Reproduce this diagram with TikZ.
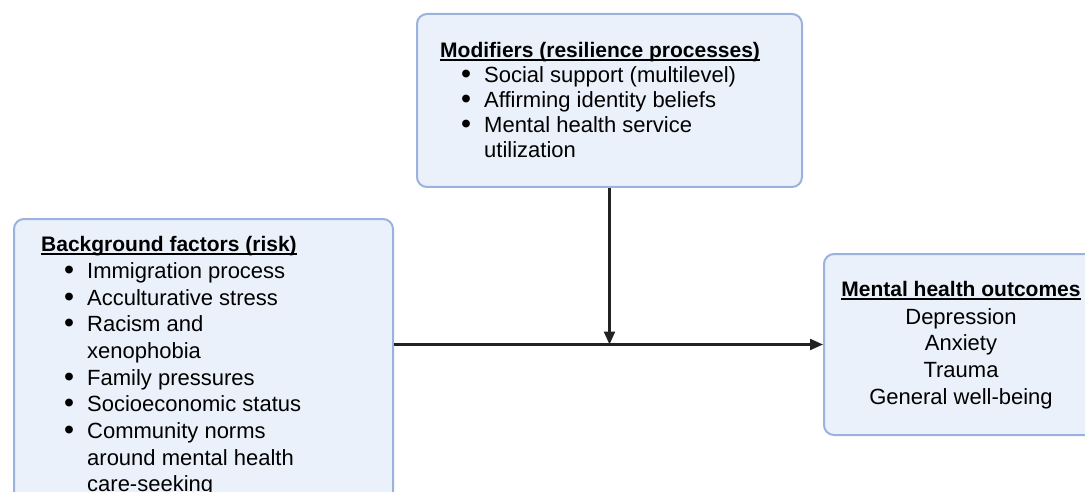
\documentclass[tikz,border=0pt]{standalone}
\usepackage{fontspec}
\setmainfont{Liberation Sans}
\usetikzlibrary{arrows.meta}
\definecolor{boxfill}{RGB}{234,241,251}
\definecolor{boxdraw}{RGB}{155,178,222}
\definecolor{arrowc}{RGB}{34,34,34}
\newsavebox\ulbx
\newcommand\ulhead[1]{\sbox\ulbx{#1}\rlap{\rule[-2.8pt]{\wd\ulbx}{1.5pt}}\usebox\ulbx}
\newcommand\bul{\llap{\smash{\raisebox{-1pt}{\scalebox{1.3}{\textbullet}}}\hspace{13pt}}}
\tikzset{
  box/.style={draw=boxdraw, fill=boxfill, line width=2pt, rounded corners=10pt, anchor=north west, inner sep=0pt},
  txt/.style={anchor=base west, inner sep=0pt, font=\fontsize{22}{26}\selectfont},
  ctxt/.style={txt, anchor=base},
  hd/.style={anchor=base west, inner sep=0pt, font=\fontsize{21}{26}\selectfont\bfseries},
  chd/.style={hd, anchor=base},
  arr/.style={draw=arrowc, line width=2.2pt, -{Triangle[length=13pt,width=11pt]}},
}
\begin{document}
\begin{tikzpicture}[x=1pt,y=-1pt]
\useasboundingbox (0,0) rectangle (1085,492);
\clip (0,0) rectangle (1085,492);
\fill[white] (0,0) rectangle (1085,492);
% boxes
\node[box, minimum width=385pt, minimum height=173pt] (mod) at (416,13) {};
\node[box, minimum width=379pt, minimum height=300pt] (bg) at (13,218) {};
\node[box, minimum width=277pt, minimum height=181pt] (out) at (823,253) {};
% modifiers text
\node[hd] (m0) at (440,58) {\ulhead{Modifiers (resilience processes)}};
\node[txt] (m1) at (484,83) {\bul Social support (multilevel)};
\node[txt] (m2) at (484,108) {\bul Affirming identity beliefs};
\node[txt] (m3) at (484,133) {\bul Mental health service};
\node[txt] (m4) at (484,158) {utilization};
% background text
\node[hd] (b0) at (41,251.7) {\ulhead{Background factors (risk)}};
\node[txt] (b1) at (87,278.3) {\bul Immigration process};
\node[txt] (b2) at (87,305) {\bul Acculturative stress};
\node[txt] (b3) at (87,331.7) {\bul Racism and};
\node[txt] (b4) at (87,358.3) {xenophobia};
\node[txt] (b5) at (87,385) {\bul Family pressures};
\node[txt] (b6) at (87,411.7) {\bul Socioeconomic status};
\node[txt] (b7) at (87,438.3) {\bul Community norms};
\node[txt] (b8) at (87,465) {around mental health};
\node[txt] (b9) at (87,491.7) {care-seeking};
% outcomes text
\node[chd] (o0) at (961,296.7) {\ulhead{Mental health outcomes}};
\node[ctxt] (o1) at (961,324) {Depression};
\node[ctxt] (o2) at (961,350.8) {Anxiety};
\node[ctxt] (o3) at (961,377.6) {Trauma};
\node[ctxt] (o4) at (961,404.4) {General well-being};
% connectors
\coordinate (j) at (mod.south |- out.west);
\draw[arr] (bg.east |- out.west) -- (out.west);
\draw[arr] (mod.south) -- (j);
\end{tikzpicture}
\end{document}
